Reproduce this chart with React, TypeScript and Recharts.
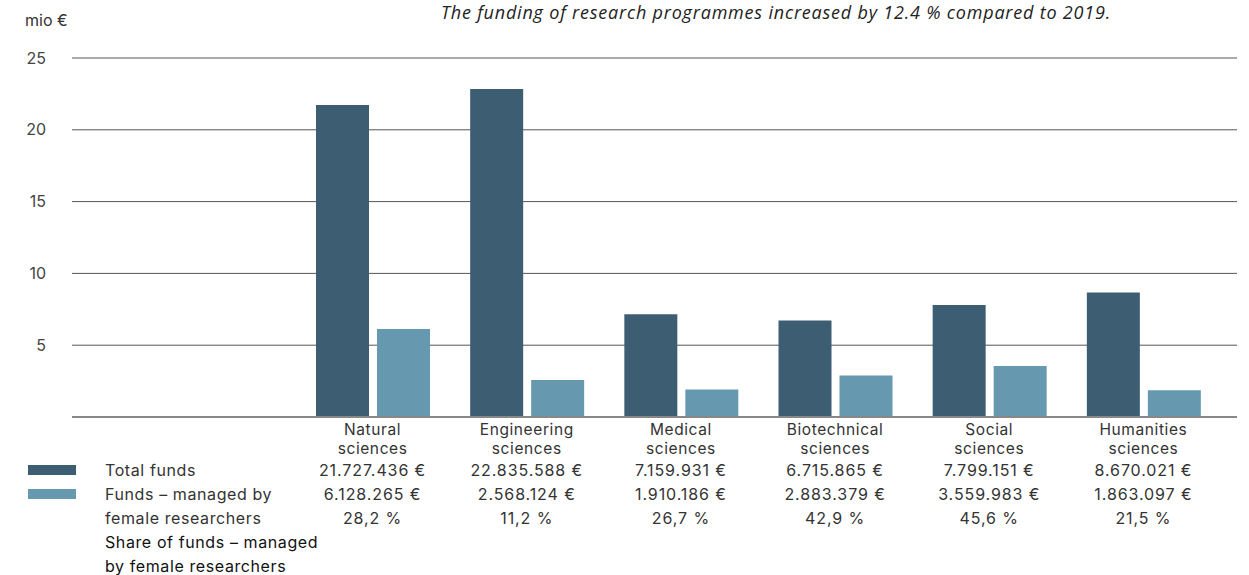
import React from "react";
import { BarChart, Bar, XAxis, YAxis, CartesianGrid } from "recharts";

const categories = [
  "Natural sciences",
  "Engineering sciences",
  "Medical sciences",
  "Biotechnical sciences",
  "Social sciences",
  "Humanities sciences",
];
const totalFunds = [21.727436, 22.835588, 7.159931, 6.715865, 7.799151, 8.670021];
const femaleFunds = [6.128265, 2.568124, 1.910186, 2.883379, 3.559983, 1.863097];
const totalLabels = ["21.727.436 €", "22.835.588 €", "7.159.931 €", "6.715.865 €", "7.799.151 €", "8.670.021 €"];
const femaleLabels = ["6.128.265 €", "2.568.124 €", "1.910.186 €", "2.883.379 €", "3.559.983 €", "1.863.097 €"];
const shareLabels = ["28,2 %", "11,2 %", "26,7 %", "42,9 %", "45,6 %", "21,5 %"];
const yTicks = [0, 5, 10, 15, 20, 25];

const title = "The funding of research programmes increased by 12.4 % compared to 2019.";
const unitLabel = "mio €";
const seriesNames = ["Total funds", "Funds – managed by female researchers"];
const shareName = "Share of funds – managed by female researchers";

const DARK = "#3d5e72";
const LIGHT = "#6699b0";
const FONT = "Inter, sans-serif";

const data = categories.map((c, i) => ({
  name: c,
  total: totalFunds[i],
  female: femaleFunds[i],
  totalLabel: totalLabels[i],
  femaleLabel: femaleLabels[i],
  shareLabel: shareLabels[i],
}));

const CategoryTick = (props: any) => {
  const { x, y, payload } = props;
  const row = data.find((d) => d.name === payload.value);
  if (!row) return null;
  const words = row.name.split(" ");
  const common = { textAnchor: "middle" as const, fontSize: 16, fill: "#333", fontFamily: FONT, letterSpacing: 0.9 };
  const nameStyle = { ...common, fontSize: 15.5, letterSpacing: 0.6 };
  return (
    <g>
      <text x={x} y={y + 17.5} {...nameStyle}>{words[0]}</text>
      <text x={x} y={y + 36.5} {...nameStyle}>{words.slice(1).join(" ")}</text>
      <text x={x} y={y + 58.5} {...common}>{row.totalLabel}</text>
      <text x={x} y={y + 82.5} {...common}>{row.femaleLabel}</text>
      <text x={x} y={y + 106.5} {...common}>{row.shareLabel}</text>
    </g>
  );
};

export default function App() {
  return (
    <div style={{ position: "absolute", left: 0, top: 0, width: 1249, height: 575, background: "#fff" }}>
      <div style={{ position: "absolute", left: 25, top: 8, fontFamily: FONT, fontSize: 16, color: "#333", lineHeight: "24px" }}>
        {unitLabel}
      </div>
      <div style={{ position: "absolute", left: 400, top: 0, width: 752, textAlign: "center", fontFamily: "'Open Sans', sans-serif", fontStyle: "italic", fontSize: 18, letterSpacing: 0.8, color: "#222", lineHeight: "24px", whiteSpace: "nowrap" }}>
        {title}
      </div>
      <BarChart
        width={1249}
        height={575}
        data={data}
        margin={{ top: 58, right: 12, bottom: 0, left: 0 }}
        barCategoryGap={20.5}
        barGap={8}
      >
        <CartesianGrid vertical={false} stroke="#555" strokeWidth={1} />
        <XAxis
          dataKey="name"
          interval={0}
          height={158}
          tickLine={false}
          tickSize={0}
          tickMargin={0}
          axisLine={{ stroke: "#888", strokeWidth: 2 }}
          padding={{ left: 223.5, right: 16.5 }}
          tick={<CategoryTick />}
        />
        <YAxis
          width={72}
          domain={[0, 25]}
          ticks={yTicks}
          axisLine={false}
          tickLine={false}
          tickSize={0}
          tickMargin={26}
          tickFormatter={(v: number) => (v === 0 ? "" : String(v))}
          tick={{ fill: "#444", fontSize: 16, fontFamily: FONT }}
        />
        <Bar dataKey="total" name={seriesNames[0]} fill={DARK} isAnimationActive={false} />
        <Bar dataKey="female" name={seriesNames[1]} fill={LIGHT} isAnimationActive={false} />
      </BarChart>
      <div style={{ position: "absolute", left: 28, top: 458, fontFamily: FONT, fontSize: 16, letterSpacing: 0.6, color: "#333", lineHeight: "24px" }}>
        <div style={{ position: "absolute", left: 0, top: 7, width: 48, height: 10, background: DARK }} />
        <div style={{ position: "absolute", left: 0, top: 31, width: 48, height: 10, background: LIGHT }} />
        <div style={{ position: "absolute", left: 77, top: 0, width: 230 }}>
          <div style={{ whiteSpace: "nowrap" }}>{seriesNames[0]}</div>
          <div style={{ width: 190 }}>{seriesNames[1]}</div>
          <div style={{ color: "#111", width: 228 }}>{shareName}</div>
        </div>
      </div>
    </div>
  );
}
